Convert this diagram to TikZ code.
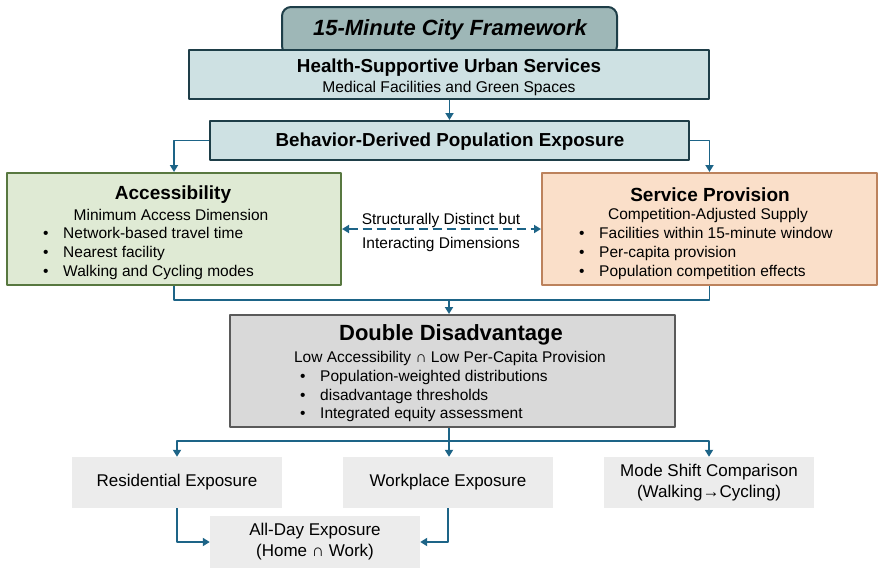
\documentclass[tikz,border=0pt]{standalone}
\usepackage{fontspec}
\setmainfont{Liberation Sans}
\usetikzlibrary{arrows.meta,calc,positioning}

\definecolor{linkblue}{RGB}{29,100,135}
\definecolor{tealdark}{RGB}{30,62,72}
\definecolor{tabfill}{RGB}{158,183,183}
\definecolor{paleteal}{RGB}{206,225,227}
\definecolor{accfill}{RGB}{223,234,212}
\definecolor{accline}{RGB}{88,120,64}
\definecolor{srvfill}{RGB}{250,223,201}
\definecolor{srvline}{RGB}{188,130,92}
\definecolor{dblfill}{RGB}{217,217,217}
\definecolor{dblline}{RGB}{90,90,90}
\definecolor{outfill}{RGB}{236,236,236}

\newcommand{\fsz}[2]{\fontsize{#1}{#2}\selectfont}
\newcommand{\itm}[1]{\makebox[20pt][l]{\textbullet}#1}

\begin{document}
\begin{tikzpicture}[x=1pt,y=-1pt,line join=round,
  >={Triangle[length=7pt,width=8pt]},
  box/.style={draw,line width=2pt,inner sep=0pt},
  outbox/.style={fill=outfill,inner sep=0pt,align=center,font=\fsz{17}{21}},
  link/.style={draw=linkblue,line width=1.8pt},
  flow/.style={link,->},
  txt/.style={inner sep=0pt,font=\fsz{15.5}{19}},
  head/.style={inner sep=0pt,font=\fsz{18.8}{21}\bfseries},
  list/.style={txt,anchor=west,align=left}]
  \useasboundingbox (0,0) rectangle (884,574);

  % header
  \node[box,draw=tealdark,fill=tabfill,rounded corners=9pt,minimum width=335,minimum height=48] (tab) at (449.5,31) {};
  \node[inner sep=0pt,font=\fsz{22}{25}\bfseries\itshape] (tabt) at (450,30) {15-Minute City Framework};
  \node[box,draw=tealdark,fill=paleteal,minimum width=520,minimum height=49] (health) at (449,74.5) {};
  \node[head] (healtht) at (449,68) {Health-Supportive Urban Services};
  \node[txt,font=\fsz{15.6}{18}] (healths) at (449,88) {Medical Facilities and Green Spaces};
  \node[box,draw=tealdark,fill=paleteal,minimum width=479,minimum height=39] (behav) at (449.5,140.5) {};
  \node[head] (behavt) at (450,142) {Behavior-Derived Population Exposure};

  % two dimensions
  \node[box,draw=accline,fill=accfill,minimum width=334,minimum height=112] (acc) at (174,229) {};
  \node[head,font=\fsz{19}{21}\bfseries] (acct) at (173,195) {Accessibility};
  \node[txt] (accs) at (171,215) {Minimum Access Dimension};
  \node[list] (accl) at (43,253) {\itm{Network-based travel time}\\\itm{Nearest facility}\\\itm{Walking and Cycling modes}};

  \node[box,draw=srvline,fill=srvfill,minimum width=335,minimum height=112] (serv) at (709.5,229) {};
  \node[head,font=\fsz{19}{21}\bfseries] (servt) at (710,195) {Service Provision};
  \node[txt] (servs) at (708,215) {Competition-Adjusted Supply};
  \node[list] (servl) at (579,253) {\itm{Facilities within 15-minute window}\\\itm{Per-capita provision}\\\itm{Population competition effects}};

  \node[txt] (mid1) at (441,220) {Structurally Distinct but};
  \node[txt] (mid2) at (441,244) {Interacting Dimensions};

  % combined
  \node[box,draw=dblline,fill=dblfill,minimum width=445,minimum height=112] (dbl) at (452.5,371) {};
  \node[inner sep=0pt,font=\fsz{22}{24}\bfseries] (dblt) at (451,335) {Double Disadvantage};
  \node[txt] (dbls) at (450,358) {Low Accessibility ∩ Low Per-Capita Provision};
  \node[list,font=\fsz{15.5}{18.5}] (dbll) at (300,396) {\itm{Population-weighted distributions}\\\itm{disadvantage thresholds}\\\itm{Integrated equity assessment}};

  % outputs
  \node[outbox,minimum width=210,minimum height=51] (res) at (177,482.5) {Residential Exposure};
  \node[outbox,minimum width=210,minimum height=51] (work) at (448,482.5) {Workplace Exposure};
  \node[outbox,minimum width=210,minimum height=51] (mode) at (709,482.5) {Mode Shift Comparison\\(Walking→Cycling)};
  \node[outbox,minimum width=210,minimum height=52] (allday) at (315,542) {All-Day Exposure\\(Home ∩ Work)};

  % connectors
  \draw[flow] (health.south -| behav.north) -- (behav.north);
  \draw[flow] (behav.west) -| (acc.north);
  \draw[flow] (behav.east) -| (serv.north);
  \draw[flow,<->,dash pattern=on 9pt off 5pt] (acc.east) -- (serv.west);

  \coordinate (merge) at (449,300);
  \draw[link] (acc.south) |- (merge) -| (serv.south);
  \draw[flow] (merge) -- (merge |- dbl.north);

  \coordinate (split) at (449,441);
  \draw[link] (split |- dbl.south) -- (split);
  \draw[flow] (split) -| (res.north);
  \draw[flow] (split) -| (mode.north);
  \draw[flow] (split) -- (split |- work.north);
  \draw[flow] (res.south) |- (allday.west);
  \draw[flow] (work.south) |- (allday.east);
\end{tikzpicture}
\end{document}
